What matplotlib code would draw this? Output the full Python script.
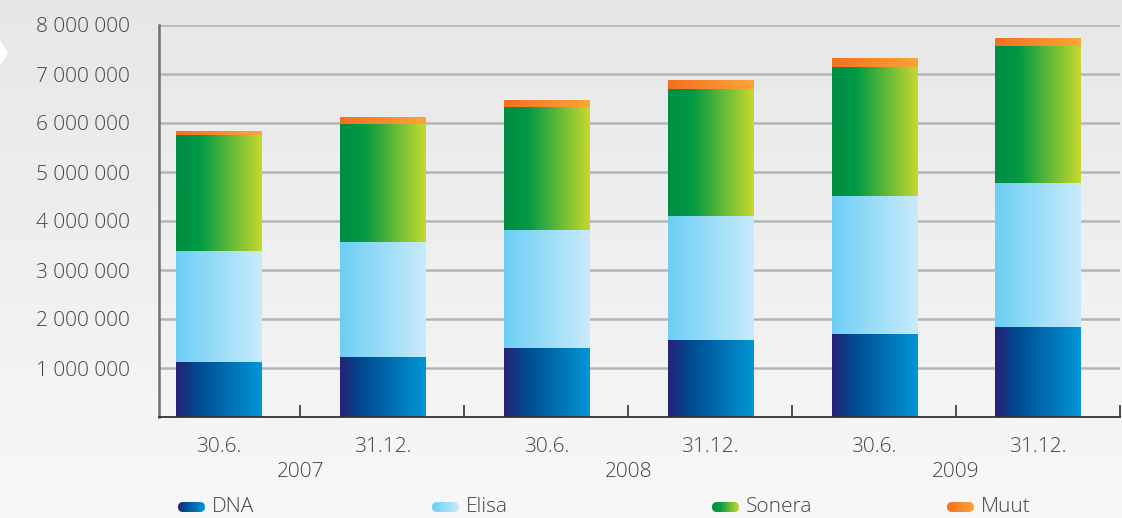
import numpy as np
import matplotlib
matplotlib.use("Agg")
import matplotlib.pyplot as plt
from matplotlib.colors import LinearSegmentedColormap
from matplotlib.patches import Polygon, FancyBboxPatch
from matplotlib.ticker import FuncFormatter
import matplotlib.transforms as mtransforms

plt.rcParams['font.family'] = ['Open Sans', 'DejaVu Sans']
plt.rcParams['font.weight'] = 'light'

# data (subscriptions)
dates = ["30.6.", "31.12.", "30.6.", "31.12.", "30.6.", "31.12."]
years = ["2007", "2008", "2009"]
series = ["DNA", "Elisa", "Sonera", "Muut"]
dna = [1120000, 1220000, 1410000, 1570000, 1690000, 1840000]
elisa = [2270000, 2350000, 2410000, 2530000, 2820000, 2940000]
sonera = [2370000, 2410000, 2510000, 2590000, 2630000, 2790000]
muut = [80000, 140000, 140000, 190000, 190000, 160000]

# horizontal gradients per series
grads = {
    "DNA": [(0, "#2a2177"), (0.25, "#004a8f"), (1, "#0096d6")],
    "Elisa": [(0, "#6ccef5"), (1, "#c9ebfb")],
    "Sonera": [(0, "#008c44"), (0.28, "#009a44"), (1, "#c6d92d")],
    "Muut": [(0, "#f37021"), (1, "#fca537")],
}
cmaps = {k: LinearSegmentedColormap.from_list(k, v) for k, v in grads.items()}
hgrad = np.linspace(0, 1, 256).reshape(1, -1)

txt = "#444444"

fig = plt.figure(figsize=(11.22, 5.18), dpi=100)

# background: light gray, fading to near white at the bottom
bg = fig.add_axes([0, 0, 1, 1], zorder=-5)
vgrad = np.linspace(0, 1, 256).reshape(-1, 1)
bg_cmap = LinearSegmentedColormap.from_list("bg", ["#e6e7e8", "#f8f8f8"])
bg.imshow(vgrad, aspect="auto", cmap=bg_cmap, extent=[0, 1, 0, 1], origin="upper")
bg.axis("off")
fig.patches.append(Polygon([(0, 1 - 40 / 518), (8 / 1122, 1 - 53 / 518), (0, 1 - 66 / 518)],
                           closed=True, transform=fig.transFigure, facecolor="white",
                           edgecolor="none"))

ax = fig.add_axes([159 / 1122, 1 - 417 / 518, 961 / 1122, 392 / 518])
ax.set_facecolor("none")

x = np.arange(len(dates))
w = 0.52
bottom = np.zeros(len(dates))
for name, vals in zip(series, [dna, elisa, sonera, muut]):
    bars = ax.bar(x, vals, w, bottom=bottom, facecolor="none", edgecolor="none", zorder=2)
    for p in bars.patches:
        x0, y0 = p.get_x(), p.get_y()
        im = ax.imshow(hgrad, cmap=cmaps[name], aspect="auto", zorder=2,
                       extent=[x0, x0 + p.get_width(), y0, y0 + p.get_height()])
        im.set_clip_path(p)
    bottom += np.array(vals)

ax.set_xlim(-0.363, 5.5)
ax.set_ylim(0, 8000000)

ax.yaxis.grid(True, color="#b5b5b5", linewidth=1.8)
ax.set_axisbelow(True)
ax.set_yticks(np.arange(1000000, 8000001, 1000000))
ax.yaxis.set_major_formatter(FuncFormatter(lambda v, pos: f"{int(v):,}".replace(",", " ")))
ax.tick_params(axis="y", length=0, pad=21, labelsize=15, labelcolor=txt)

ax.set_xticks(x)
ax.set_xticklabels([])
ax.tick_params(axis="x", which="major", length=0)
ax.set_xticks(np.arange(0.5, 6, 1), minor=True)
ax.tick_params(axis="x", which="minor", direction="in", length=9, width=1.2, color="#333333")

for s in ["top", "right"]:
    ax.spines[s].set_visible(False)
ax.spines["left"].set_color("#707070")
ax.spines["left"].set_linewidth(1.8)
ax.spines["bottom"].set_color("#333333")
ax.spines["bottom"].set_linewidth(1.3)

trans = mtransforms.blended_transform_factory(ax.transData, ax.transAxes)
for i, d in enumerate(dates):
    ax.text(i, -0.0765, d, transform=trans, ha="center", va="center", fontsize=15, color=txt)
for j, yr in enumerate(years):
    ax.text(2 * j + 0.5, -0.140, yr, transform=trans, ha="center", va="center",
            fontsize=15, color=txt)

# legend: gradient pills + labels (pill axes in pixel units)
pill_x = [178, 432, 712, 947]
for px, name in zip(pill_x, series):
    pax = fig.add_axes([px / 1122, 1 - 512 / 518, 27 / 1122, 10 / 518])
    pax.axis("off")
    pim = pax.imshow(hgrad, cmap=cmaps[name], aspect="auto", extent=[0, 27, 0, 10])
    pill = FancyBboxPatch((0, 0), 27, 10, boxstyle="round,pad=0,rounding_size=5",
                          facecolor="none", edgecolor="none")
    pax.add_patch(pill)
    pim.set_clip_path(pill)
    pax.set_xlim(0, 27)
    pax.set_ylim(0, 10)
    fig.text((px + 34) / 1122, 1 - 507 / 518, name, ha="left", va="center",
             fontsize=15, color=txt)

fig.savefig("out.png", dpi=100)
